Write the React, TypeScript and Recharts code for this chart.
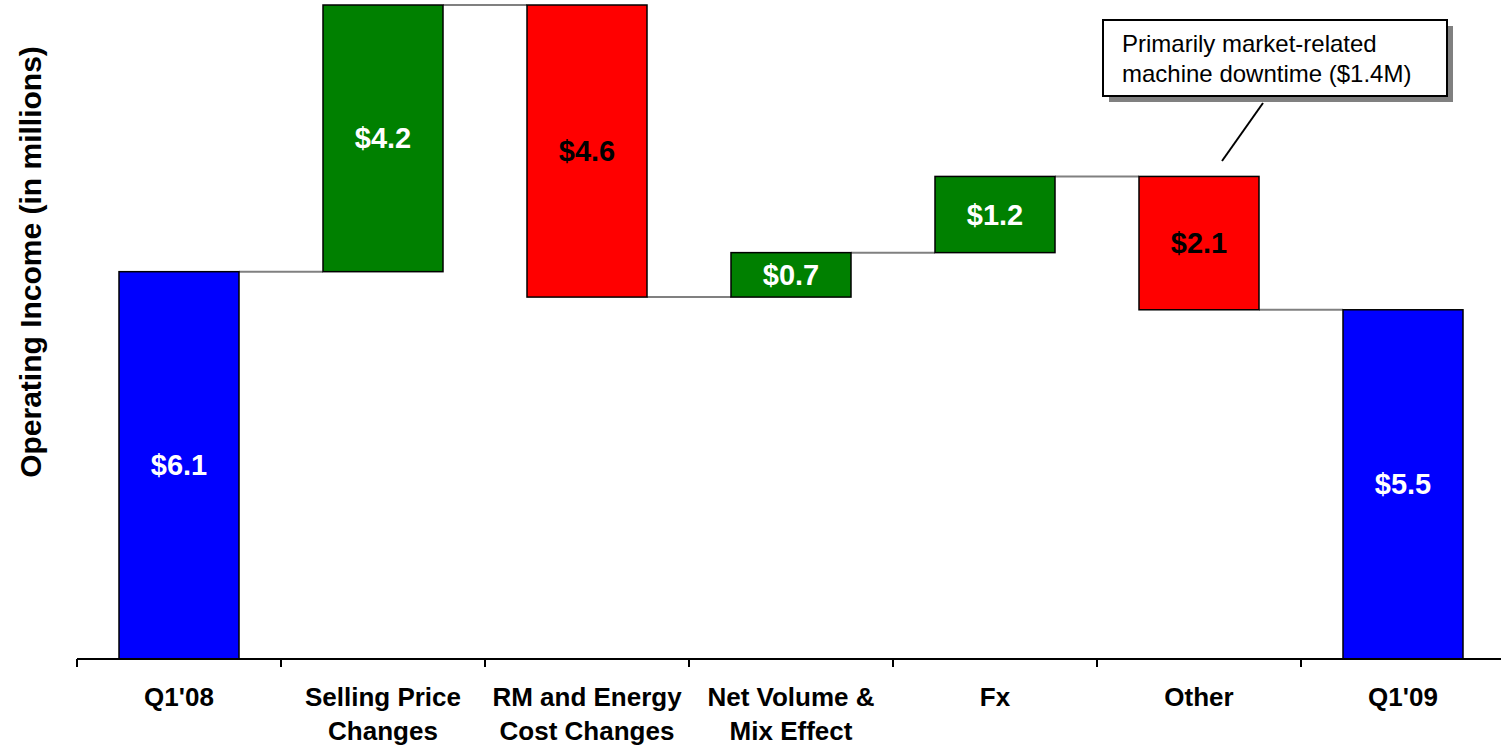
import React from 'react'
import { BarChart, Bar, XAxis, YAxis, LabelList, Customized } from 'recharts'

const categories = [
  "Q1'08",
  'Selling Price Changes',
  'RM and Energy Cost Changes',
  'Net Volume & Mix Effect',
  'Fx',
  'Other',
  "Q1'09",
]

const tickLines: Record<string, string[]> = {
  "Q1'08": ["Q1'08"],
  'Selling Price Changes': ['Selling Price', 'Changes'],
  'RM and Energy Cost Changes': ['RM and Energy', 'Cost Changes'],
  'Net Volume & Mix Effect': ['Net Volume &', 'Mix Effect'],
  Fx: ['Fx'],
  Other: ['Other'],
  "Q1'09": ["Q1'09"],
}

// signed change in $M; totals are absolute
const amounts = [6.1, 4.2, -4.6, 0.7, 1.2, -2.1, 5.5]
const kinds = ['total', 'up', 'down', 'up', 'up', 'down', 'total']

const colors: Record<string, string> = {
  total: '#0000FF',
  up: '#008000',
  down: '#FF0000',
}

const W = 1510
const H = 745
const AXIS_H = 86
const MARGIN = { top: 5, right: 5, bottom: 0, left: 77 }
const BAND = (W - MARGIN.left - MARGIN.right) / categories.length
const AXIS_Y = H - AXIS_H
const FONT = '"Liberation Sans", Arial, sans-serif'

let running = 0
const data = categories.map((name, i) => {
  const amt = amounts[i]
  const kind = kinds[i]
  let base = 0
  let value = amt
  if (kind === 'total') {
    running = amt
  } else if (kind === 'up') {
    base = running
    running += amt
  } else {
    running += amt
    base = running
    value = -amt
  }
  return { name, base, value, kind, label: `$${Math.abs(amt).toFixed(1)}`, last: i === categories.length - 1 }
})

const WaterfallBar = (props: any) => {
  const { x, y, width, height, payload } = props
  const level = payload.kind === 'down' ? y + height : y
  return (
    <g>
      {!payload.last && (
        <line x1={x + width} y1={level} x2={x + width + (BAND - width)} y2={level} stroke="#808080" strokeWidth={2} />
      )}
      <rect x={x} y={y} width={width} height={height} fill={colors[payload.kind]} stroke="#000" strokeWidth={1.5} />
    </g>
  )
}

const ValueLabel = (props: any) => {
  const { x, y, width, height, index } = props
  const d = data[index]
  return (
    <text
      x={x + width / 2}
      y={y + height / 2}
      textAnchor="middle"
      dominantBaseline="central"
      fontFamily={FONT}
      fontWeight="bold"
      fontSize={29}
      fill={d.kind === 'down' ? '#000' : '#fff'}
    >
      {d.label}
    </text>
  )
}

const CategoryTick = (props: any) => {
  const { x, payload } = props
  const lines = tickLines[payload.value] || [payload.value]
  return (
    <g>
      <line x1={x - BAND / 2} y1={AXIS_Y} x2={x - BAND / 2} y2={AXIS_Y + 8} stroke="#000" strokeWidth={2} />
      {payload.index === categories.length - 1 && (
        <line x1={x + BAND / 2} y1={AXIS_Y} x2={x + BAND / 2} y2={AXIS_Y + 8} stroke="#000" strokeWidth={2} />
      )}
      <text textAnchor="middle" fontFamily={FONT} fontWeight="bold" fontSize={26} fill="#000">
        {lines.map((l, i) => (
          <tspan key={i} x={x} y={AXIS_Y + 47 + i * 34}>
            {l}
          </tspan>
        ))}
      </text>
    </g>
  )
}

const Decorations = () => (
  <g>
    <text
      x={30}
      y={262}
      transform="rotate(-90 30 262)"
      textAnchor="middle"
      dominantBaseline="central"
      fontFamily={FONT}
      fontWeight="bold"
      fontSize={30}
      fill="#000"
    >
      Operating Income (in millions)
    </text>
    <line x1={1263} y1={103} x2={1222} y2={161} stroke="#000" strokeWidth={2} />
    <rect x={1109} y={26} width={344} height={76} fill="#808080" />
    <rect x={1103} y={20} width={344} height={76} fill="#fff" stroke="#000" strokeWidth={2} />
    <text fontFamily={FONT} fontSize={24} fill="#000">
      <tspan x={1122} y={52}>Primarily market-related</tspan>
      <tspan x={1122} y={82}>machine downtime ($1.4M)</tspan>
    </text>
  </g>
)

export default function App() {
  return (
    <div style={{ position: 'absolute', left: 0, top: 0, width: 1501, height: 745, overflow: 'hidden', background: '#fff' }}>
      <BarChart width={W} height={H} data={data} margin={MARGIN} barSize={120}>
        <XAxis
          dataKey="name"
          interval={0}
          height={AXIS_H}
          tickLine={false}
          axisLine={{ stroke: '#000', strokeWidth: 2 }}
          tick={<CategoryTick />}
        />
        <YAxis hide domain={[0, 10.3]} />
        <Bar dataKey="base" stackId="w" fill="none" isAnimationActive={false} />
        <Bar dataKey="value" stackId="w" shape={<WaterfallBar />} isAnimationActive={false}>
          <LabelList dataKey="value" content={<ValueLabel />} />
        </Bar>
        <Customized component={<Decorations />} />
      </BarChart>
    </div>
  )
}
